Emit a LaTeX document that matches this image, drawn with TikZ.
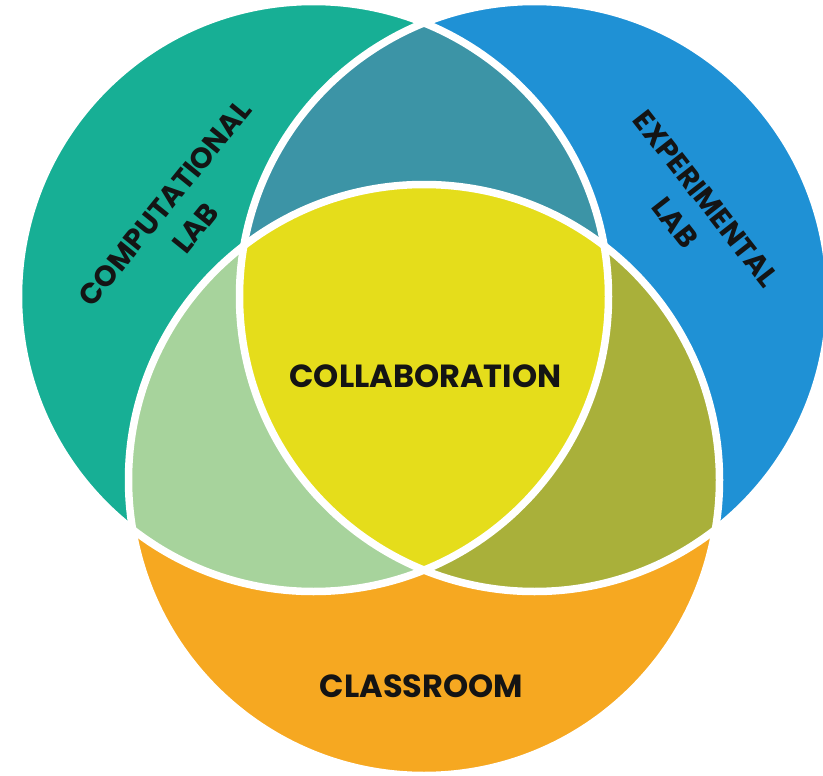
\documentclass[tikz,border=0pt]{standalone}
\usepackage{fontspec}
\setmainfont{Poppins}
\definecolor{cteal}{HTML}{17AF95}
\definecolor{cblue}{HTML}{1F91D5}
\definecolor{corange}{HTML}{F6A821}
\definecolor{cdark}{HTML}{3C94A6}
\definecolor{clight}{HTML}{A7D39C}
\definecolor{colive}{HTML}{A9B03A}
\definecolor{cyellow}{HTML}{E5DD1B}
\definecolor{ctext}{HTML}{141414}
\begin{document}
\begin{tikzpicture}[x=1pt,y=-1pt,
  sep/.style={draw=white,line width=7.5pt},
  lbl/.style={text=ctext,inner sep=0pt,align=center,font=\bfseries\fontsize{32}{39}\selectfont},
  sidelbl/.style={text=ctext,inner sep=0pt,align=center,font=\bfseries\fontsize{29}{39}\selectfont}]
\useasboundingbox (0,0) rectangle (823,776);
\clip (0,0) rectangle (823,776);
\coordinate (cL) at (313.5,296.5);
\coordinate (cR) at (534.5,296.5);
\coordinate (cB) at (424,480);
\def\rL{295}
\def\rB{295.5}
% single regions
\fill[cteal] (cL) circle[radius=\rL];
\fill[cblue] (cR) circle[radius=\rL];
\fill[corange] (cB) circle[radius=\rB];
% pairwise
\begin{scope}
  \clip (cL) circle[radius=\rL];
  \fill[cdark] (cR) circle[radius=\rL];
\end{scope}
\begin{scope}
  \clip (cL) circle[radius=\rL];
  \fill[clight] (cB) circle[radius=\rB];
\end{scope}
\begin{scope}
  \clip (cR) circle[radius=\rL];
  \fill[colive] (cB) circle[radius=\rB];
\end{scope}
% triple
\begin{scope}
  \clip (cL) circle[radius=\rL];
  \clip (cR) circle[radius=\rL];
  \fill[cyellow] (cB) circle[radius=\rB];
\end{scope}
% white separators
\draw[sep] (cL) circle[radius=\rL];
\draw[sep] (cR) circle[radius=\rL];
\draw[sep] (cB) circle[radius=\rB];
% labels
\node[lbl] (collab) at (425.5,376.5) {COLLABORATION};
\node[lbl] (classroom) at (421.5,686) {CLASSROOM};
\node[sidelbl,rotate=51] (comp) at (180,215.5) {COMPUTATIONAL\\LAB};
\node[sidelbl,rotate=-52] (exper) at (690.5,211) {EXPERIMENTAL\\LAB};
\end{tikzpicture}
\end{document}
